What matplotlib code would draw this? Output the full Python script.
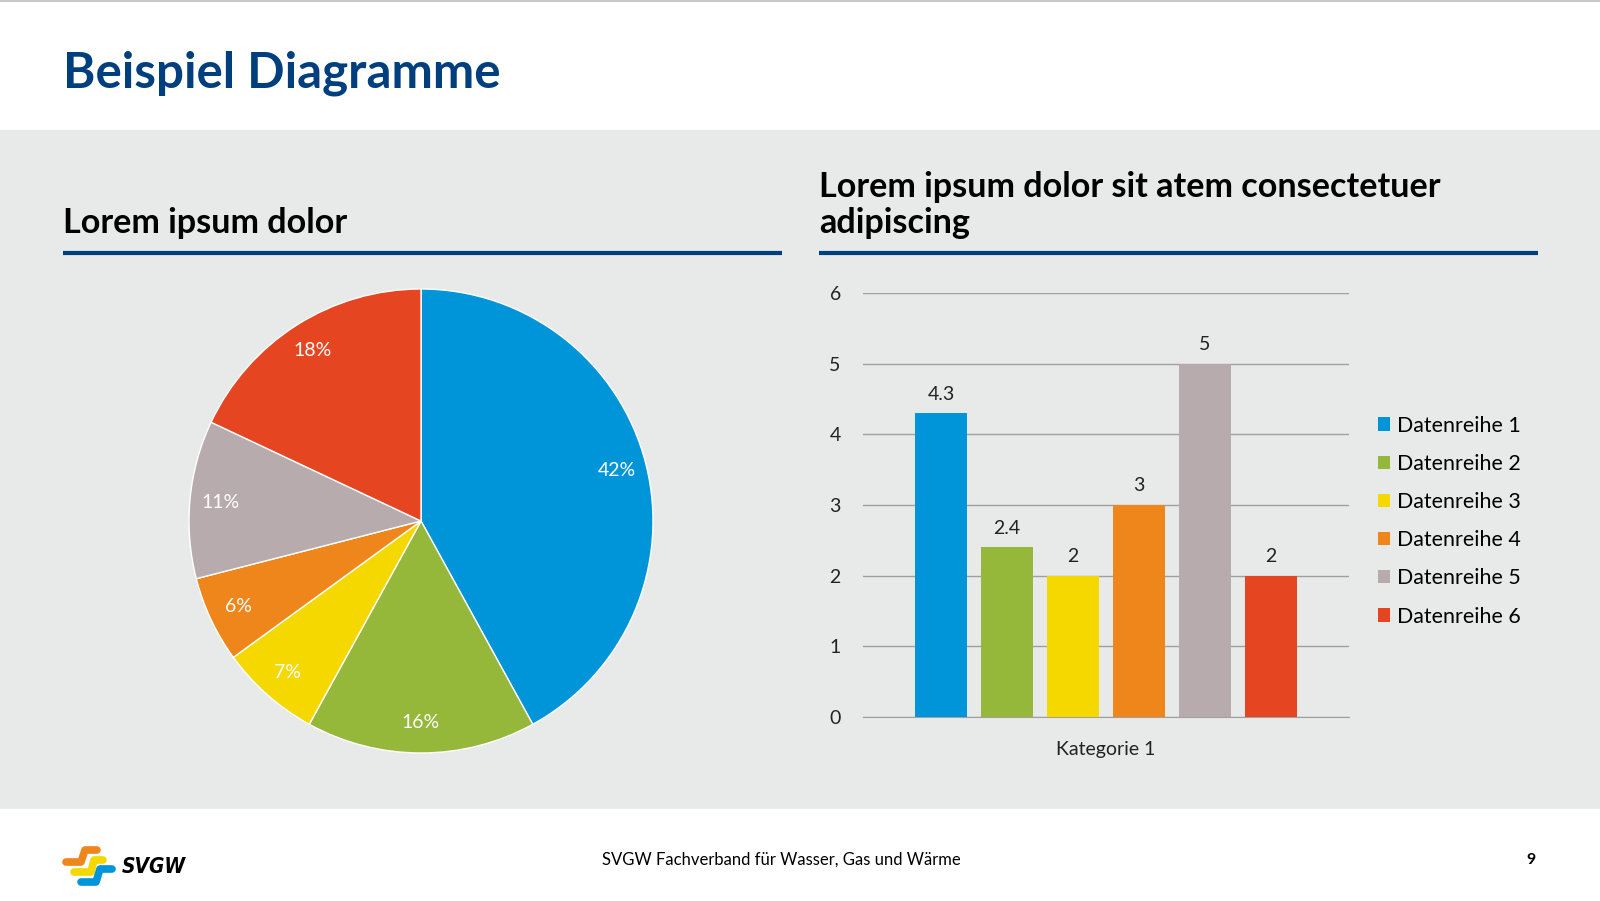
import matplotlib.pyplot as plt
from matplotlib.patches import Rectangle

plt.rcParams['font.family'] = ['Lato', 'DejaVu Sans']

# data
pie_values = [42, 16, 7, 6, 11, 18]
pie_colors = ['#0095D8', '#95B83B', '#F5D800', '#EE861C', '#B7ABAE', '#E54520']

series = ['Datenreihe 1', 'Datenreihe 2', 'Datenreihe 3',
          'Datenreihe 4', 'Datenreihe 5', 'Datenreihe 6']
bar_values = [4.3, 2.4, 2, 3, 5, 2]
category = 'Kategorie 1'

navy = '#003F7D'
W, H = 1600, 901

fig = plt.figure(figsize=(16, 9.01), dpi=100)
bg = fig.add_axes([0, 0, 1, 1])
bg.set_xlim(0, W)
bg.set_ylim(H, 0)
bg.axis('off')

# bands
bg.add_patch(Rectangle((0, 0), W, 130, color='white'))
bg.add_patch(Rectangle((0, 130), W, 679, color='#E8EAE9'))
bg.add_patch(Rectangle((0, 809), W, 92, color='white'))
bg.plot([0, W], [1, 1], color='#C8C8C8', lw=1.5)

bg.text(63, 87, 'Beispiel Diagramme', fontsize=35.5, fontweight='bold', color=navy)

bg.text(63, 233, 'Lorem ipsum dolor', fontsize=24.6, fontweight='bold', color='black')
bg.plot([63, 782], [253, 253], color=navy, lw=3, solid_capstyle='butt')
bg.text(819, 197, 'Lorem ipsum dolor sit atem consectetuer', fontsize=24.6,
        fontweight='bold', color='black')
bg.text(819, 233, 'adipiscing', fontsize=24.6, fontweight='bold', color='black')
bg.plot([819, 1538], [253, 253], color=navy, lw=3, solid_capstyle='butt')

# footer
bg.text(781, 860, 'SVGW Fachverband für Wasser, Gas und Wärme', fontsize=12,
        ha='center', va='center', color='black')
bg.text(1531, 860, '9', fontsize=11.5, fontweight='bold', ha='center', va='center')

# logo
def stroke(xs, ys, c):
    bg.plot(xs, ys, color=c, lw=5.5, solid_capstyle='round', solid_joinstyle='round')

stroke([66, 81, 85, 97], [862, 862, 850, 850], '#EE861C')
stroke([74, 91, 94, 103], [872, 872, 860, 860], '#F5D800')
stroke([81, 96, 100, 112], [882, 882, 869, 869], '#0095D8')
bg.text(122, 873, 'SVGW', fontsize=15, fontweight='heavy', style='italic',
        stretch='condensed', color='black', family='DejaVu Sans')

# pie
cx, cy, r = 421, 521, 232
pax = fig.add_axes([(cx - r) / W, (H - cy - r) / H, 2 * r / W, 2 * r / H])
pax.pie(pie_values, colors=pie_colors, startangle=90, counterclock=False,
        autopct='%d%%', pctdistance=0.87,
        wedgeprops=dict(edgecolor='white', linewidth=1),
        textprops=dict(color='white', fontsize=14))
pax.set_xlim(-1, 1)
pax.set_ylim(-1, 1)
pax.set_aspect('equal')

# bars
x0, x1, y0, y6 = 863, 1349, 717, 293
bax = fig.add_axes([x0 / W, (H - y0) / H, (x1 - x0) / W, (y0 - y6) / H])
bax.set_facecolor('none')
step = 66 / (x1 - x0)
width = 52 / (x1 - x0)
handles = []
for i, (name, v, c) in enumerate(zip(series, bar_values, pie_colors)):
    b = bax.bar((i - 2.5) * step, v, width=width, color=c, label=name, zorder=3)
    handles.append(b)
    bax.text((i - 2.5) * step, v + 0.15, f'{v:g}', ha='center', va='bottom',
             fontsize=14, color='#222222')
bax.set_xlim(-0.5, 0.5)
bax.set_ylim(0, 6)
bax.set_yticks(range(7))
bax.set_xticks([0])
bax.set_xticklabels([category])
bax.yaxis.grid(True, color='#A0A0A0', lw=1)
bax.set_axisbelow(True)
for s in ['top', 'right', 'left']:
    bax.spines[s].set_visible(False)
bax.spines['bottom'].set_color('#A0A0A0')
bax.tick_params(axis='both', length=0, labelsize=14, colors='#222222')
bax.tick_params(axis='x', pad=17)
bax.tick_params(axis='y', pad=16)
bax.legend(handles=handles, loc='center left', bbox_to_anchor=(1.02, 0.462),
           frameon=False, fontsize=15.4, handlelength=0.58, handleheight=0.58,
           handletextpad=0.3, labelspacing=0.85)

fig.savefig('out.png', dpi=100)
